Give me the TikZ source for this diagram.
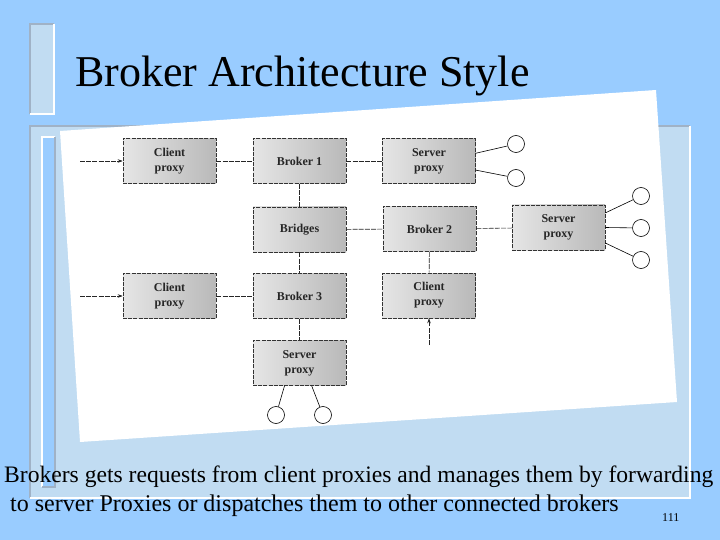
\documentclass[tikz,border=0pt]{standalone}
\usepackage{fontspec}
\setmainfont{Liberation Serif}
\usetikzlibrary{arrows.meta,calc}
\definecolor{bgblue}{RGB}{153,204,255}
\definecolor{panel}{RGB}{193,220,242}
\definecolor{edge}{RGB}{160,178,198}
\begin{document}
\begin{tikzpicture}[x=1pt,y=-1pt,
  box/.style={draw=black!80, dash pattern=on 4pt off 1.2pt, line width=0.6pt,
    left color=gray!20, right color=gray!55, minimum width=93pt, minimum height=45pt,
    inner sep=0pt, align=center, font=\fontsize{12}{15}\selectfont\bfseries, text=black!85},
  conn/.style={draw=black!85, line width=0.6pt, dash pattern=on 5pt off 1.2pt},
  arr/.style={conn, -{Stealth[length=5pt,width=3.5pt]}},
  port/.style={circle, draw=black, fill=white, line width=0.6pt, minimum size=17pt, inner sep=0pt},
  wire/.style={draw=black, line width=0.6pt},
  txt/.style={anchor=base west, inner sep=0pt, text=black}]
% background and slide decoration
\fill[bgblue] (0,0) rectangle (720,540);
\useasboundingbox (0,0) rectangle (720,540);
\fill[panel] (30,24) rectangle (54,114);
\draw[edge, line width=1.2pt] (30,114) -- (30,24) -- (54,24);
\draw[white, line width=1.2pt] (54,24) -- (54,114) -- (30,114);
\fill[panel] (30,126) rectangle (690,498);
\draw[edge, line width=1.2pt] (30,498) -- (30,126) -- (690,126);
\draw[white, line width=1.2pt] (690,126) -- (690,498) -- (30,498);
\fill[bgblue] (42,137) rectangle (55,487);
\draw[white, line width=1.2pt] (42,487) -- (42,137) -- (55,137);
\draw[edge, line width=1.2pt] (55,137) -- (55,487) -- (42,487);
% paper
\fill[white] (60,131) -- (656,90) -- (677,402) -- (80,442) -- cycle;
% title
\node[txt, font=\fontsize{44}{44}\selectfont] (title) at (75,86.7) {Broker Architecture Style};
% boxes
\node[box] (cp1) at (169.5,161) {Client\\proxy};
\node[box] (b1) at (299.5,161) {Broker 1};
\node[box] (sp1) at (429,161) {Server\\proxy};
\node[box] (br) at (299.5,229.5) {Bridges};
\node[box] (b2) at (429.5,229) {Broker 2};
\node[box] (sp2) at (558.5,227.5) {Server\\proxy};
\node[box] (cp2) at (169.5,296) {Client\\proxy};
\node[box] (b3) at (299.5,296) {Broker 3};
\node[box] (cp3) at (429,295.5) {Client\\proxy};
\node[box] (sp3) at (299.5,363) {Server\\proxy};
% ports
\node[port] (p1) at (516,144) {};
\node[port] (p2) at (516,178) {};
\node[port] (p3) at (641,196) {};
\node[port] (p4) at (641,228) {};
\node[port] (p5) at (641,260) {};
\node[port] (p6) at (276,415) {};
\node[port] (p7) at (323,415) {};
% free ends of incoming arrows
\coordinate (in1) at (80,161);
\coordinate (in2) at (80,296);
\coordinate (in3) at (429,345);
% connectors
\draw[arr] (in1) -- (cp1.west);
\draw[arr] (in2) -- (cp2.west);
\draw[arr] (in3) -- (cp3.south);
\draw[conn] (cp1) -- (b1);
\draw[conn] (b1) -- (sp1);
\draw[conn] (b1) -- (br);
\draw[conn] (br) -- (b2);
\draw[conn] (br) -- (b3);
\draw[conn] (b2) -- (sp2);
\draw[conn] (b2) -- (cp3);
\draw[conn] (cp2) -- (b3);
\draw[conn] (b3) -- (sp3);
% wires to ports
\draw[wire] ($(sp1.north east)!0.33!(sp1.south east)$) -- (p1);
\draw[wire] ($(sp1.north east)!0.70!(sp1.south east)$) -- (p2);
\draw[wire] ($(sp2.north east)!0.18!(sp2.south east)$) -- (p3);
\draw[wire] ($(sp2.north east)!0.50!(sp2.south east)$) -- (p4);
\draw[wire] ($(sp2.north east)!0.84!(sp2.south east)$) -- (p5);
\draw[wire] ($(sp3.south west)!0.34!(sp3.south east)$) -- (p6);
\draw[wire] ($(sp3.south west)!0.63!(sp3.south east)$) -- (p7);
% caption
\node[txt, font=\fontsize{23.6}{24}\selectfont] (cap1) at (4,482) {Brokers gets requests from client proxies and manages them by forwarding};
\node[txt, font=\fontsize{24}{24}\selectfont] (cap2) at (10,511) {to server Proxies or dispatches them to other connected brokers};
\node[txt, font=\fontsize{12}{12}\selectfont] (pg) at (662,521) {111};
\end{tikzpicture}
\end{document}
